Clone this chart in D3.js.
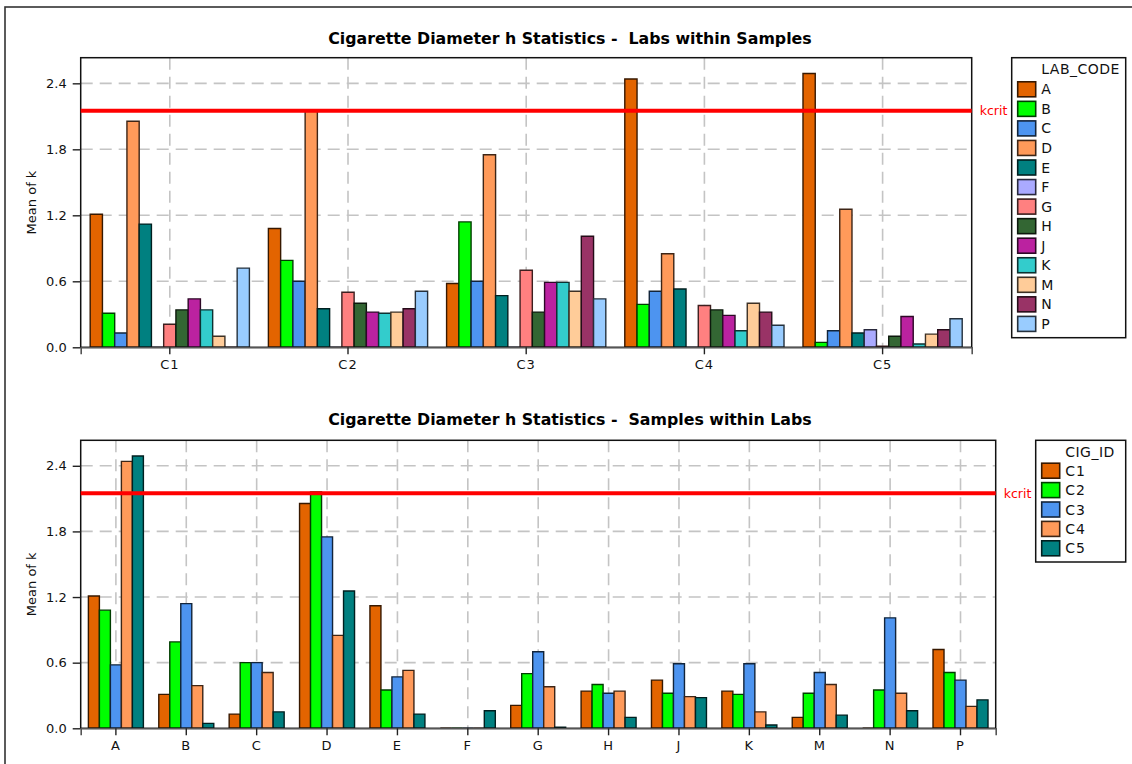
<!DOCTYPE html>
<html>
<head>
<meta charset="utf-8">
<script src="https://cdn.jsdelivr.net/npm/d3@7"></script>
<style>
  html, body { margin: 0; padding: 0; background: #fff; }
  svg { display: block; font-family: "DejaVu Sans", Verdana, sans-serif; }
  .title { white-space: pre; }
</style>
</head>
<body>
<svg id="chart" width="1132" height="764"></svg>
<script>
// ---------- data ----------
const labs = ["A","B","C","D","E","F","G","H","J","K","M","N","P"];
const samples = ["C1","C2","C3","C4","C5"];
// mean k per lab (order of labs) for each cigarette sample
const c1 = [1.21, 0.31, 0.13, 2.055, 1.12, 0.00, 0.21, 0.34, 0.44, 0.34, 0.10, 0.00, 0.72];
const c2 = [1.08, 0.79, 0.60, 2.16, 0.35, 0.00, 0.50, 0.40, 0.32, 0.31, 0.32, 0.35, 0.51];
const c3 = [0.58, 1.14, 0.60, 1.75, 0.47, 0.00, 0.70, 0.32, 0.59, 0.59, 0.51, 1.01, 0.44];
const c4 = [2.44, 0.39, 0.51, 0.85, 0.53, 0.00, 0.38, 0.34, 0.29, 0.15, 0.40, 0.32, 0.20];
const c5 = [2.49, 0.045, 0.15, 1.255, 0.13, 0.16, 0.01, 0.10, 0.28, 0.03, 0.12, 0.16, 0.26];
const kcrit = 2.15;
const yTicks = [0.0, 0.6, 1.2, 1.8, 2.4];
const yMax = 2.633;
const labColors = ["#E36400","#00FF00","#4D94F0","#FF9A5A","#008080","#AAAAFF","#FF8080",
                   "#336633","#BB22A0","#33CCCC","#FFCC99","#993366","#99CCFF"];
const sampleColors = ["#E36400","#00FF00","#4D94F0","#FF9A5A","#008080"];
const title1 = "Cigarette Diameter h Statistics -  Labs within Samples";
const title2 = "Cigarette Diameter h Statistics -  Samples within Labs";
const yLabel = "Mean of k";

const sampleValues = [c1, c2, c3, c4, c5];

const svg = d3.select("#chart");
svg.append("rect").attr("width",1132).attr("height",764).attr("fill","#fff");
// outer frame
svg.append("rect").attr("x",5).attr("y",7).attr("width",1200).attr("height",900)
  .attr("fill","none").attr("stroke","#333").attr("stroke-width",1.6);

function drawChart(cfg) {
  const {left, right, top, bottom, groups, series, getVal, colors, pad, title, titleY,
         legendTitle, legendBox, legendRowY, legendStep, tickLabelY, letterSp} = cfg;
  const g = svg.append("g");
  const y = d3.scaleLinear().domain([0, yMax]).range([bottom, top]);
  const x0 = d3.scaleBand().domain(groups).range([left, right]).padding(0);
  const x1 = d3.scaleBand().domain(series).range([0, x0.bandwidth()])
    .paddingInner(0).paddingOuter(pad);

  // grid
  g.append("g").selectAll("line").data(yTicks.filter(d => d > 0)).join("line")
    .attr("x1", left).attr("x2", right).attr("y1", d => y(d)).attr("y2", d => y(d))
    .attr("stroke","#c4c4c4").attr("stroke-width",1.6).attr("stroke-dasharray","12,7");
  g.append("g").selectAll("line").data(groups).join("line")
    .attr("x1", d => x0(d) + x0.bandwidth()/2).attr("x2", d => x0(d) + x0.bandwidth()/2)
    .attr("y1", top).attr("y2", bottom)
    .attr("stroke","#c4c4c4").attr("stroke-width",1.6).attr("stroke-dasharray","12,7");

  // bars
  const bars = [];
  groups.forEach((grp, gi) => series.forEach((s, si) => {
    bars.push({grp, s, si, v: getVal(gi, si)});
  }));
  g.append("g").selectAll("path").data(bars).join("path")
    .attr("d", d => {
      const xa = x0(d.grp) + x1(d.s), w = x1.bandwidth();
      const p = d3.path();
      p.moveTo(xa, y(0)); p.lineTo(xa, y(d.v)); p.lineTo(xa + w, y(d.v)); p.lineTo(xa + w, y(0)); p.closePath();
      return p.toString();
    })
    .attr("fill", d => colors[d.si])
    .attr("stroke", d => d3.color(colors[d.si]).darker(4))
    .attr("stroke-width", 1.4);

  // frame
  g.append("rect").attr("x", left).attr("y", top).attr("width", right-left).attr("height", bottom-top)
    .attr("fill","none").attr("stroke","#111").attr("stroke-width",1.5);

  // axes
  const ya = d3.axisLeft(y).tickValues(yTicks).tickFormat(d3.format(".1f")).tickSize(8).tickPadding(6);
  const yg = g.append("g").attr("transform",`translate(${left},0)`).call(ya);
  yg.select(".domain").remove();
  yg.selectAll("text").attr("font-size",13).attr("font-family","DejaVu Sans").attr("fill","#111");
  yg.selectAll("line").attr("stroke","#222").attr("stroke-width",1.4);

  const xa = d3.axisBottom(x0).tickSize(7).tickPadding(0);
  const xg = g.append("g").attr("transform",`translate(0,${bottom})`).call(xa);
  xg.select(".domain").attr("stroke","#555").attr("stroke-width",1.6);
  xg.selectAll("line").attr("stroke","#222").attr("stroke-width",1.4);
  xg.selectAll("text").attr("font-size",13).attr("font-family","DejaVu Sans").attr("fill","#111")
    .attr("dy",null).attr("y", tickLabelY - bottom).attr("dominant-baseline","central")
    .attr("letter-spacing", letterSp);

  // kcrit
  g.append("line").attr("x1", left).attr("x2", right).attr("y1", y(kcrit)).attr("y2", y(kcrit))
    .attr("stroke","#FF0000").attr("stroke-width",4);
  g.append("text").attr("x", right + 8).attr("y", y(kcrit)).attr("dominant-baseline","central")
    .attr("font-size",12.5).attr("fill","#FF0000").text("kcrit");

  // y label
  g.append("text").attr("transform",`translate(31.5,${(top+bottom)/2}) rotate(-90)`)
    .attr("text-anchor","middle").attr("dominant-baseline","central")
    .attr("font-size",13).attr("fill","#111").text(yLabel);

  // title
  g.append("text").attr("class","title").attr("x",570).attr("y",titleY)
    .attr("text-anchor","middle").attr("dominant-baseline","central")
    .attr("font-size",15.8).attr("font-weight","bold").attr("fill","#000").text(title);

  // legend
  const lg = g.append("g");
  lg.append("rect").attr("x", legendBox[0]).attr("y", legendBox[1])
    .attr("width", legendBox[2]-legendBox[0]).attr("height", legendBox[3]-legendBox[1])
    .attr("fill","#fff").attr("stroke","#111").attr("stroke-width",1.5);
  const swX = legendBox[0] + 6;
  const txX = swX + 23.5;
  lg.append("text").attr("x", txX).attr("y", legendBox[1] + 11.5).attr("dominant-baseline","central")
    .attr("font-size",14).attr("letter-spacing",0.5).attr("fill","#111").text(legendTitle);
  series.forEach((s, i) => {
    const cy = legendRowY + i * legendStep;
    lg.append("rect").attr("x", swX).attr("y", cy - 7.5).attr("width",18).attr("height",15)
      .attr("fill", colors[i]).attr("stroke", d3.color(colors[i]).darker(4)).attr("stroke-width",1.6);
    lg.append("text").attr("x", txX).attr("y", cy).attr("dominant-baseline","central")
      .attr("font-size",14).attr("letter-spacing", 1).attr("fill","#111").text(s);
  });
}

drawChart({
  left: 80.7, right: 971.7, top: 57.7, bottom: 347.3,
  groups: samples, series: labs, getVal: (gi, si) => sampleValues[gi][si],
  colors: labColors, pad: 0.775, title: title1, titleY: 38,
  legendTitle: "LAB_CODE", legendBox: [1011.7, 57.7, 1125.7, 337.7],
  legendRowY: 89.3, legendStep: 19.55, tickLabelY: 365, letterSp: 1
});

drawChart({
  left: 80.7, right: 995.7, top: 440.3, bottom: 728.3,
  groups: labs, series: samples, getVal: (gi, si) => sampleValues[si][gi],
  colors: sampleColors, pad: 0.7, title: title2, titleY: 419.5,
  legendTitle: "CIG_ID", legendBox: [1035.7, 440.3, 1125.7, 562],
  legendRowY: 470.7, legendStep: 19.4, tickLabelY: 746, letterSp: 1
});
</script>
</body>
</html>
